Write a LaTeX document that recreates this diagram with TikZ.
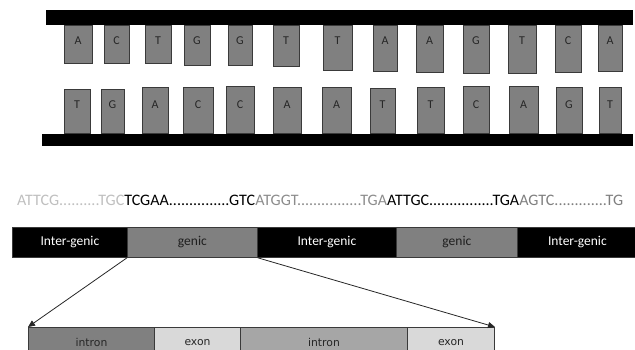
\documentclass[tikz,border=0pt]{standalone}
\usepackage{fontspec}
\setmainfont{Carlito}
\newfontfamily\dvs{DejaVu Sans}
\usetikzlibrary{arrows.meta}
\definecolor{boxgray}{HTML}{808080}
\definecolor{edgegray}{HTML}{3A3A3A}
\definecolor{exongray}{HTML}{D9D9D9}
\definecolor{introngray}{HTML}{A6A6A6}
\definecolor{seqA}{HTML}{BFBFBF}
\definecolor{seqB}{HTML}{8C8C8C}
\definecolor{seqC}{HTML}{7F7F7F}
\tikzset{
  base/.style={draw=edgegray, fill=boxgray, line width=0.8pt, inner sep=0pt},
  letter/.style={text=black!85, font=\fontsize{12}{13}\selectfont, inner sep=0pt},
  segblack/.style={draw=edgegray, fill=black, line width=0.8pt, inner sep=0pt, minimum height=30pt, anchor=north west, text=white, font=\fontsize{13.5}{15}\selectfont},
  seggray/.style={draw=edgegray, fill=boxgray, line width=0.8pt, inner sep=0pt, minimum height=30pt, anchor=north west, text=black!88, font=\fontsize{13.5}{15}\selectfont},
  part/.style={draw=edgegray, line width=1pt, inner sep=0pt, minimum height=30pt, anchor=north west, font=\dvs\fontsize{10.8}{12}\selectfont, text=black!85},
  arr/.style={-{Triangle[length=7pt,width=6pt]}, line width=0.8pt, draw=black!85}
}
\begin{document}
\begin{tikzpicture}[x=1pt,y=-1pt]
\useasboundingbox (0,0) rectangle (635,349);
\clip (0,0) rectangle (635,349);
% backbones
\fill[black] (46,10) rectangle (633,25);
\fill[black] (42,134) rectangle (633,146);
% top bases
\foreach \a/\b/\c/\L [count=\i] in {64/92/63/A,104/129/63/C,145/171/63/T,184/210/65/G,228/252/65/G,273/299/66/T,323/352/70/T,373/397/71/A,416/443/72/A,463/489/73/G,508/536/73/T,555/581/72/C,598/622/71/A}{
  \pgfmathsetmacro\w{\b-\a}\pgfmathsetmacro\h{\c-25}\pgfmathsetmacro\cx{(\a+\b)/2}
  \node[base, minimum width=\w pt, minimum height=\h pt, anchor=north] (t\i) at (\cx,25) {};
  \node[letter] (tl\i) at (\cx,41) {\L};
}
% bottom bases
\foreach \a/\b/\c/\L [count=\i] in {64/90/90/T,101/124/90/G,142/168/88/A,183/213/88/C,226/254/87/C,273/301/88/A,322/351/88/A,370/395/89/T,417/444/88/T,463/489/87/C,509/538/87/A,556/582/88/G,599/621/88/T}{
  \pgfmathsetmacro\w{\b-\a}\pgfmathsetmacro\h{134-\c}\pgfmathsetmacro\cx{(\a+\b)/2}
  \node[base, minimum width=\w pt, minimum height=\h pt, anchor=south] (b\i) at (\cx,134) {};
  \node[letter] (bl\i) at (\cx,105) {\L};
}
% sequence
\node[anchor=west, inner sep=0pt, font=\fontsize{14.5}{17}\selectfont] (seq) at (17,200)
  {\resizebox{606pt}{!}{\textcolor{seqA}{ATTCG..........TGC}\textcolor{black}{TCGAA...............GTC}\textcolor{seqB}{ATGGT................TGA}\textcolor{black}{ATTGC................TGA}\textcolor{seqC}{AGTC.............TG}}};
% gene bar
\node[segblack, minimum width=115pt] (ig1) at (12,227) {Inter-genic};
\node[seggray, minimum width=130pt] (g1) at (127,227) {genic};
\node[segblack, minimum width=139pt] (ig2) at (257,227) {Inter-genic};
\node[seggray, minimum width=121pt] (g2) at (396,227) {genic};
\node[segblack, minimum width=120pt] (ig3) at (517,227) {Inter-genic};
% exon/intron bar
\node[part, fill=boxgray, minimum width=126pt] (in1) at (28,327) {intron};
\node[part, fill=exongray, minimum width=86pt] (ex1) at (154,327) {exon};
\node[part, fill=introngray, minimum width=167pt] (in2) at (240,327) {intron};
\node[part, fill=exongray, minimum width=87pt] (ex2) at (407,327) {exon};
% arrows
\draw[arr] (g1.south west) -- (in1.north west);
\draw[arr] (g1.south east) -- (ex2.north east);
\end{tikzpicture}
\end{document}
